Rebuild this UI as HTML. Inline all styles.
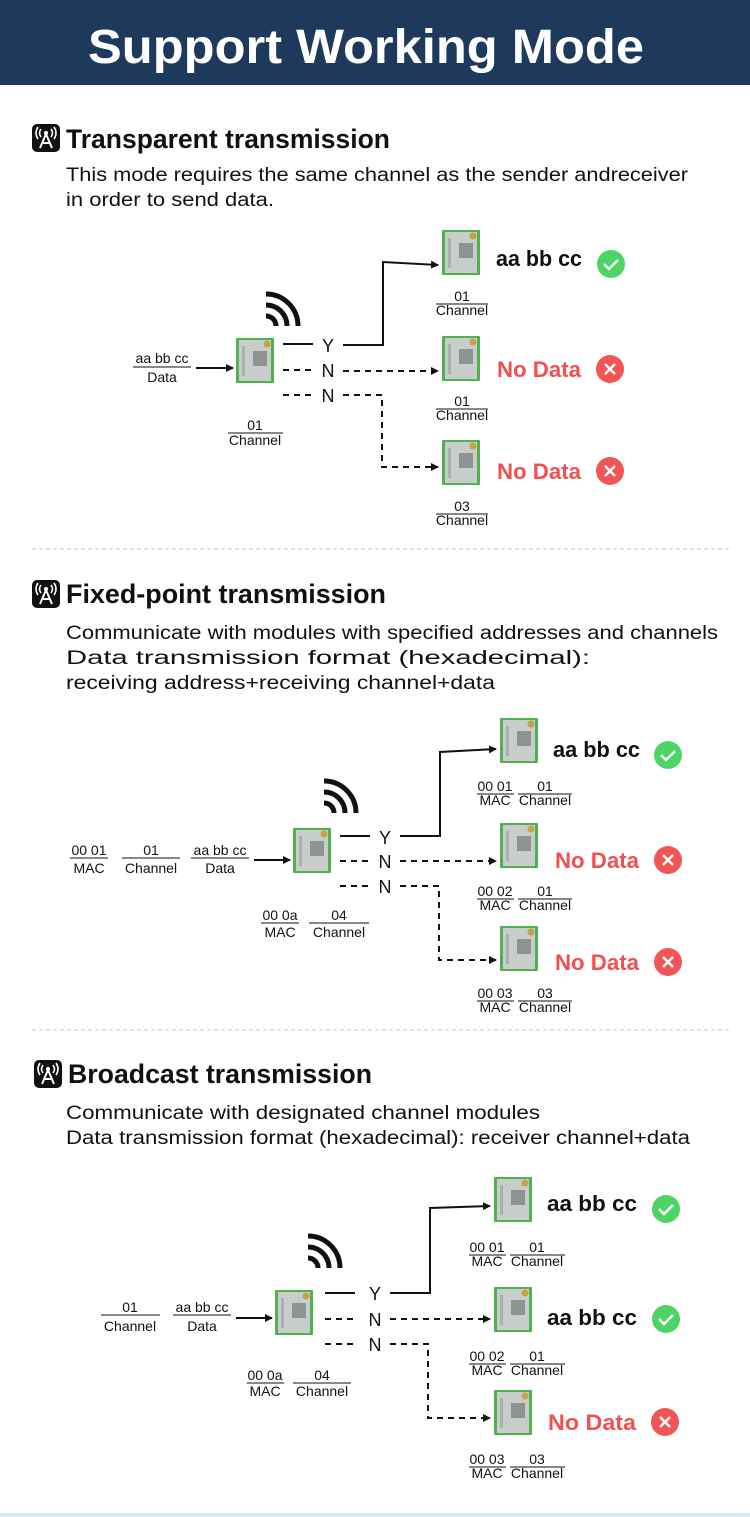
<!DOCTYPE html>
<html><head><meta charset="utf-8"><style>
html,body{margin:0;padding:0;background:#fff}
svg{display:block}
text{font-family:"Liberation Sans",sans-serif}
.f{font-size:14px;fill:#111;text-anchor:middle}
.yn{font-size:18px;fill:#111;text-anchor:middle}
.ok{font-size:22px;font-weight:bold;fill:#111}
.nd{font-size:22px;font-weight:bold;fill:#f0504f}
.t{font-size:27px;font-weight:bold;fill:#111}
.d{font-size:19px;fill:#111}
</style></head><body>
<svg width="750" height="1517" viewBox="0 0 750 1517" xmlns="http://www.w3.org/2000/svg">
<defs>
<g id="m">
<rect x="0" y="0" width="38" height="45" fill="#4fb24f" rx="1"/>
<rect x="3" y="2" width="32" height="41" fill="#c8ccca"/>
<circle cx="31" cy="6" r="3.5" fill="#c9a04a"/>
<rect x="17" y="13" width="14" height="15" fill="#8f9492"/>
<rect x="6" y="8" width="3" height="30" fill="#aab0ad"/>
</g>
<g id="ic">
<rect x="0" y="0" width="28" height="28" rx="5" fill="#111"/>
<path d="M14 10 L8 24 M14 10 L20 24 M10 19 H18" stroke="#fff" stroke-width="2" fill="none"/>
<circle cx="14" cy="9" r="2" fill="#fff"/>
<path d="M9 5 Q6 9 9 13 M19 5 Q22 9 19 13 M6 3 Q2 9 6 15 M22 3 Q26 9 22 15" stroke="#fff" stroke-width="1.6" fill="none"/>
</g>
<g id="ck"><circle r="14" fill="#4cd564"/><path d="M-7 0 L-2 5 L7 -4" stroke="#fff" stroke-width="2.5" fill="none"/></g>
<g id="x"><circle r="14" fill="#f25555"/><path d="M-5 -5 L5 5 M5 -5 L-5 5" stroke="#fff" stroke-width="2.5"/></g>
<g id="w" fill="none" stroke="#111" stroke-width="5">
<path d="M0 -10 A10 10 0 0 1 10 0"/><path d="M0 -21 A21 21 0 0 1 21 0"/><path d="M0 -32 A32 32 0 0 1 32 0"/>
</g>
<marker id="a" markerWidth="8" markerHeight="8" refX="7" refY="4" orient="auto" markerUnits="userSpaceOnUse"><path d="M0 0 L8 4 L0 8 Z" fill="#111"/></marker>
</defs>

<rect x="0" y="0" width="750" height="85" fill="#1d3a5c"/>
<text x="88" y="63" font-size="48" font-weight="bold" fill="#fff" textLength="556" lengthAdjust="spacingAndGlyphs">Support Working Mode</text>

<!-- Section 1 -->
<use href="#ic" x="32" y="124"/>
<text class="t" x="66" y="148" textLength="324" lengthAdjust="spacingAndGlyphs">Transparent transmission</text>
<text class="d" x="66" y="181" textLength="622" lengthAdjust="spacingAndGlyphs">This mode requires the same channel as the sender andreceiver</text>
<text class="d" x="66" y="206" textLength="208" lengthAdjust="spacingAndGlyphs">in order to send data.</text>

<use href="#w" x="266" y="326"/>
<use href="#m" x="236" y="338"/>
<text class="f" x="162" y="363">aa bb cc</text><line x1="133" y1="367" x2="191" y2="367" stroke="#111"/><text class="f" x="162" y="382">Data</text>
<line x1="196" y1="368" x2="233" y2="368" stroke="#111" stroke-width="2" marker-end="url(#a)"/>
<text class="f" x="255" y="430">01</text><line x1="228" y1="433" x2="283" y2="433" stroke="#111"/><text class="f" x="255" y="445">Channel</text>
<g stroke="#111" stroke-width="2" fill="none">
<line x1="283" y1="344" x2="313" y2="344"/>
<line x1="283" y1="370" x2="313" y2="370" stroke-dasharray="6,5"/>
<line x1="283" y1="395" x2="313" y2="395" stroke-dasharray="6,5"/>
<path d="M343 345 H383 V262 L438 265" marker-end="url(#a)"/>
<path d="M343 371 H438" stroke-dasharray="6,5" marker-end="url(#a)"/>
<path d="M343 395 H382 V467 H438" stroke-dasharray="6,5" marker-end="url(#a)"/>
</g>
<text class="yn" x="328" y="352">Y</text><text class="yn" x="328" y="377">N</text><text class="yn" x="328" y="402">N</text>
<use href="#m" x="442" y="230"/><use href="#m" x="442" y="336"/><use href="#m" x="442" y="440"/>
<text class="f" x="462" y="301">01</text><line x1="436" y1="304" x2="488" y2="304" stroke="#111"/><text class="f" x="462" y="315">Channel</text>
<text class="f" x="462" y="406">01</text><line x1="436" y1="409" x2="488" y2="409" stroke="#111"/><text class="f" x="462" y="420">Channel</text>
<text class="f" x="462" y="511">03</text><line x1="436" y1="514" x2="488" y2="514" stroke="#111"/><text class="f" x="462" y="525">Channel</text>
<text class="ok" x="496" y="266" textLength="86" lengthAdjust="spacingAndGlyphs">aa bb cc</text><use href="#ck" x="611" y="264"/>
<text class="nd" x="497" y="377" textLength="84" lengthAdjust="spacingAndGlyphs">No Data</text><use href="#x" x="610" y="369"/>
<text class="nd" x="497" y="479" textLength="84" lengthAdjust="spacingAndGlyphs">No Data</text><use href="#x" x="610" y="471"/>

<line x1="32" y1="549" x2="732" y2="549" stroke="#c8c8c8" stroke-dasharray="4,3"/>

<!-- Section 2 -->
<use href="#ic" x="32" y="580"/>
<text class="t" x="66" y="603" textLength="320" lengthAdjust="spacingAndGlyphs">Fixed-point transmission</text>
<text class="d" x="66" y="639" textLength="652" lengthAdjust="spacingAndGlyphs">Communicate with modules with specified addresses and channels</text>
<text class="d" x="66" y="664" textLength="524" lengthAdjust="spacingAndGlyphs">Data transmission format (hexadecimal):</text>
<text class="d" x="66" y="689" textLength="429" lengthAdjust="spacingAndGlyphs">receiving address+receiving channel+data</text>

<use href="#w" x="324" y="813"/>
<use href="#m" x="293" y="828"/>
<text class="f" x="89" y="855">00 01</text><line x1="70" y1="858" x2="108" y2="858" stroke="#111"/><text class="f" x="89" y="873">MAC</text>
<text class="f" x="151" y="855">01</text><line x1="122" y1="858" x2="180" y2="858" stroke="#111"/><text class="f" x="151" y="873">Channel</text>
<text class="f" x="220" y="855">aa bb cc</text><line x1="191" y1="858" x2="249" y2="858" stroke="#111"/><text class="f" x="220" y="873">Data</text>
<line x1="254" y1="860" x2="290" y2="860" stroke="#111" stroke-width="2" marker-end="url(#a)"/>
<text class="f" x="280" y="920">00 0a</text><line x1="261" y1="923" x2="299" y2="923" stroke="#111"/><text class="f" x="280" y="937">MAC</text>
<text class="f" x="339" y="920">04</text><line x1="309" y1="923" x2="369" y2="923" stroke="#111"/><text class="f" x="339" y="937">Channel</text>
<g stroke="#111" stroke-width="2" fill="none">
<line x1="340" y1="836" x2="370" y2="836"/>
<line x1="340" y1="861" x2="370" y2="861" stroke-dasharray="6,5"/>
<line x1="340" y1="886" x2="370" y2="886" stroke-dasharray="6,5"/>
<path d="M400 836 H440 V752 L496 749" marker-end="url(#a)"/>
<path d="M400 861 H496" stroke-dasharray="6,5" marker-end="url(#a)"/>
<path d="M400 886 H439 V960 H496" stroke-dasharray="6,5" marker-end="url(#a)"/>
</g>
<text class="yn" x="385" y="844">Y</text><text class="yn" x="385" y="868">N</text><text class="yn" x="385" y="893">N</text>
<use href="#m" x="500" y="718"/><use href="#m" x="500" y="823"/><use href="#m" x="500" y="926"/>
<g>
<text class="f" x="495" y="791">00 01</text><line x1="477" y1="794" x2="514" y2="794" stroke="#111"/><text class="f" x="495" y="805">MAC</text>
<text class="f" x="545" y="791">01</text><line x1="518" y1="794" x2="572" y2="794" stroke="#111"/><text class="f" x="545" y="805">Channel</text>
<text class="f" x="495" y="896">00 02</text><line x1="477" y1="899" x2="514" y2="899" stroke="#111"/><text class="f" x="495" y="910">MAC</text>
<text class="f" x="545" y="896">01</text><line x1="518" y1="899" x2="572" y2="899" stroke="#111"/><text class="f" x="545" y="910">Channel</text>
<text class="f" x="495" y="998">00 03</text><line x1="477" y1="1001" x2="514" y2="1001" stroke="#111"/><text class="f" x="495" y="1012">MAC</text>
<text class="f" x="545" y="998">03</text><line x1="518" y1="1001" x2="572" y2="1001" stroke="#111"/><text class="f" x="545" y="1012">Channel</text>
</g>
<text class="ok" x="553" y="757" textLength="87" lengthAdjust="spacingAndGlyphs">aa bb cc</text><use href="#ck" x="668" y="755"/>
<text class="nd" x="555" y="868" textLength="84" lengthAdjust="spacingAndGlyphs">No Data</text><use href="#x" x="668" y="860"/>
<text class="nd" x="555" y="970" textLength="84" lengthAdjust="spacingAndGlyphs">No Data</text><use href="#x" x="668" y="962"/>

<line x1="32" y1="1030" x2="732" y2="1030" stroke="#c8c8c8" stroke-dasharray="4,3"/>

<!-- Section 3 -->
<use href="#ic" x="34" y="1060"/>
<text class="t" x="68" y="1083" textLength="304" lengthAdjust="spacingAndGlyphs">Broadcast transmission</text>
<text class="d" x="66" y="1119" textLength="474" lengthAdjust="spacingAndGlyphs">Communicate with designated channel modules</text>
<text class="d" x="66" y="1144" textLength="624" lengthAdjust="spacingAndGlyphs">Data transmission format (hexadecimal): receiver channel+data</text>

<use href="#w" x="308" y="1268"/>
<use href="#m" x="275" y="1290"/>
<text class="f" x="130" y="1312">01</text><line x1="101" y1="1315" x2="160" y2="1315" stroke="#111"/><text class="f" x="130" y="1331">Channel</text>
<text class="f" x="202" y="1312">aa bb cc</text><line x1="173" y1="1315" x2="231" y2="1315" stroke="#111"/><text class="f" x="202" y="1331">Data</text>
<line x1="236" y1="1318" x2="272" y2="1318" stroke="#111" stroke-width="2" marker-end="url(#a)"/>
<text class="f" x="265" y="1380">00 0a</text><line x1="247" y1="1383" x2="284" y2="1383" stroke="#111"/><text class="f" x="265" y="1396">MAC</text>
<text class="f" x="322" y="1380">04</text><line x1="293" y1="1383" x2="351" y2="1383" stroke="#111"/><text class="f" x="322" y="1396">Channel</text>
<g stroke="#111" stroke-width="2" fill="none">
<line x1="325" y1="1293" x2="355" y2="1293"/>
<line x1="325" y1="1319" x2="355" y2="1319" stroke-dasharray="6,5"/>
<line x1="325" y1="1344" x2="355" y2="1344" stroke-dasharray="6,5"/>
<path d="M390 1293 H430 V1208 L490 1206" marker-end="url(#a)"/>
<path d="M390 1319 H490" stroke-dasharray="6,5" marker-end="url(#a)"/>
<path d="M390 1344 H428 V1418 H490" stroke-dasharray="6,5" marker-end="url(#a)"/>
</g>
<text class="yn" x="375" y="1300">Y</text><text class="yn" x="375" y="1326">N</text><text class="yn" x="375" y="1351">N</text>
<use href="#m" x="494" y="1177"/><use href="#m" x="494" y="1287"/><use href="#m" x="494" y="1390"/>
<text class="f" x="487" y="1252">00 01</text><line x1="469" y1="1255" x2="506" y2="1255" stroke="#111"/><text class="f" x="487" y="1266">MAC</text>
<text class="f" x="537" y="1252">01</text><line x1="510" y1="1255" x2="565" y2="1255" stroke="#111"/><text class="f" x="537" y="1266">Channel</text>
<text class="f" x="487" y="1361">00 02</text><line x1="469" y1="1364" x2="506" y2="1364" stroke="#111"/><text class="f" x="487" y="1375">MAC</text>
<text class="f" x="537" y="1361">01</text><line x1="510" y1="1364" x2="565" y2="1364" stroke="#111"/><text class="f" x="537" y="1375">Channel</text>
<text class="f" x="487" y="1464">00 03</text><line x1="469" y1="1467" x2="506" y2="1467" stroke="#111"/><text class="f" x="487" y="1478">MAC</text>
<text class="f" x="537" y="1464">03</text><line x1="510" y1="1467" x2="565" y2="1467" stroke="#111"/><text class="f" x="537" y="1478">Channel</text>
<text class="ok" x="547" y="1211" textLength="90" lengthAdjust="spacingAndGlyphs">aa bb cc</text><use href="#ck" x="666" y="1209"/>
<text class="ok" x="547" y="1325" textLength="90" lengthAdjust="spacingAndGlyphs">aa bb cc</text><use href="#ck" x="666" y="1319"/>
<text class="nd" x="548" y="1430" textLength="88" lengthAdjust="spacingAndGlyphs">No Data</text><use href="#x" x="665" y="1422"/>

<rect x="0" y="1513" width="750" height="4" fill="#d6eaf5"/>
</svg>
</body></html>
